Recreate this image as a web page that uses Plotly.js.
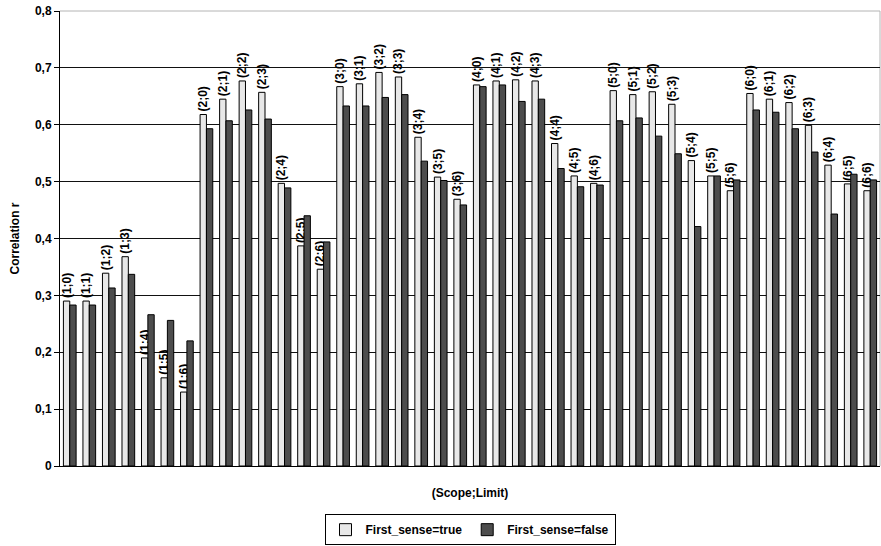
<!DOCTYPE html>
<html>
<head>
<meta charset="utf-8">
<script src="https://cdn.plot.ly/plotly-3.0.1.min.js"></script>
<style>html,body{margin:0;padding:0;background:#fff;}#chart{width:881px;height:546px;}</style>
</head>
<body>
<div id="chart"></div>
<script>
var categories = [
  "(1;0)","(1;1)","(1;2)","(1;3)","(1;4)","(1;5)","(1;6)",
  "(2;0)","(2;1)","(2;2)","(2;3)","(2;4)","(2;5)","(2;6)",
  "(3;0)","(3;1)","(3;2)","(3;3)","(3;4)","(3;5)","(3;6)",
  "(4;0)","(4;1)","(4;2)","(4;3)","(4;4)","(4;5)","(4;6)",
  "(5;0)","(5;1)","(5;2)","(5;3)","(5;4)","(5;5)","(5;6)",
  "(6;0)","(6;1)","(6;2)","(6;3)","(6;4)","(6;5)","(6;6)"
];
var firstSenseTrue = [
  0.290, 0.290, 0.339, 0.368, 0.190, 0.155, 0.130,
  0.618, 0.645, 0.677, 0.657, 0.497, 0.387, 0.346,
  0.667, 0.672, 0.692, 0.684, 0.578, 0.508, 0.469,
  0.670, 0.677, 0.679, 0.677, 0.567, 0.510, 0.497,
  0.660, 0.653, 0.658, 0.636, 0.537, 0.510, 0.484,
  0.655, 0.645, 0.639, 0.599, 0.529, 0.496, 0.484
];
var firstSenseFalse = [
  0.283, 0.283, 0.313, 0.337, 0.266, 0.256, 0.220,
  0.593, 0.607, 0.626, 0.610, 0.489, 0.440, 0.394,
  0.633, 0.633, 0.648, 0.653, 0.536, 0.502, 0.459,
  0.667, 0.670, 0.641, 0.645, 0.523, 0.491, 0.494,
  0.607, 0.612, 0.580, 0.549, 0.421, 0.510, 0.503,
  0.626, 0.622, 0.593, 0.552, 0.443, 0.513, 0.503
];
var yTickVals = [0, 0.1, 0.2, 0.3, 0.4, 0.5, 0.6, 0.7, 0.8];
var yTickText = ["0", "0,1", "0,2", "0,3", "0,4", "0,5", "0,6", "0,7", "0,8"];
var seriesNames = ["First_sense=true", "First_sense=false"];

var fontFam = "Liberation Sans, Arial, sans-serif";
function b(s) { return "<b>" + s + "</b>"; }

var traces = [
  {
    type: "bar",
    name: b(seriesNames[0]),
    x: categories,
    y: firstSenseTrue,
    text: categories.map(b),
    textposition: "outside",
    textangle: -90,
    cliponaxis: false,
    constraintext: "none",
    textfont: {family: fontFam, size: 12, color: "#000"},
    marker: {color: "#e8e8e8", line: {color: "#000", width: 1}},
    hoverinfo: "x+y"
  },
  {
    type: "bar",
    name: b(seriesNames[1]),
    x: categories,
    y: firstSenseFalse,
    marker: {color: "#4d4d4d", line: {color: "#000", width: 1}},
    hoverinfo: "x+y"
  }
];

var layout = {
  width: 881,
  height: 546,
  margin: {l: 60, r: 1, t: 11, b: 80},
  paper_bgcolor: "#fff",
  plot_bgcolor: "#fff",
  font: {family: fontFam, size: 12, color: "#000"},
  barmode: "group",
  bargap: 0.35,
  bargroupgap: 0,
  showlegend: true,
  legend: {
    orientation: "h",
    x: 0.5, xanchor: "center",
    y: -0.174, yanchor: "bottom",
    bordercolor: "#000", borderwidth: 1,
    bgcolor: "#fff",
    font: {family: fontFam, size: 12, color: "#000"},
    itemwidth: 30,
    traceorder: "normal"
  },
  xaxis: {
    type: "category",
    showticklabels: false,
    ticks: "",
    showgrid: false,
    showline: true,
    linecolor: "#000",
    linewidth: 1,
    zeroline: false,
    automargin: false,
    title: {text: b("(Scope;Limit)"), standoff: 22, font: {family: fontFam, size: 12, color: "#000"}}
  },
  yaxis: {
    range: [0, 0.8],
    tickvals: yTickVals,
    ticktext: yTickText.map(b),
    ticks: "outside",
    ticklen: 5,
    tickcolor: "#000",
    tickfont: {family: fontFam, size: 12, color: "#000"},
    showgrid: true,
    gridcolor: "#111",
    gridwidth: 1,
    showline: true,
    linecolor: "#000",
    linewidth: 1,
    zeroline: false,
    automargin: false,
    title: {text: b("Correlation r"), standoff: 12, font: {family: fontFam, size: 12, color: "#000"}}
  },
  shapes: [
    {type: "line", xref: "paper", yref: "paper", x0: 0, x1: 1, y0: 1, y1: 1, line: {color: "#b4b4b4", width: 1}, layer: "above"},
    {type: "line", xref: "paper", yref: "paper", x0: 1, x1: 1, y0: 0, y1: 1, line: {color: "#b4b4b4", width: 1}, layer: "below"}
  ]
};

Plotly.newPlot("chart", traces, layout, {displayModeBar: false, staticPlot: true});
</script>
</body>
</html>
